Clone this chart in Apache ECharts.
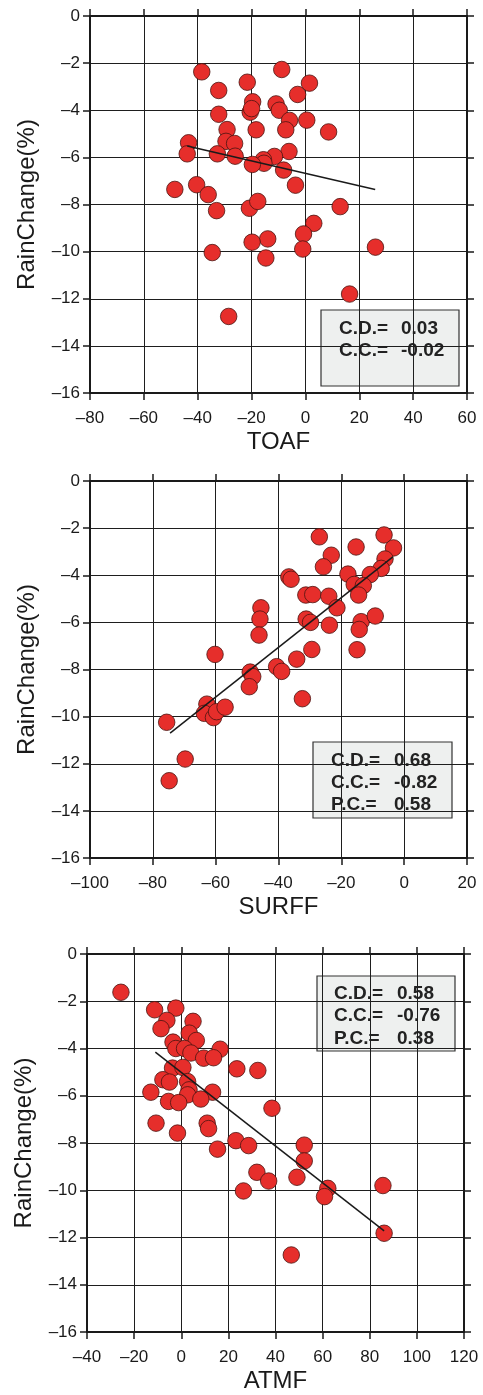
<!DOCTYPE html>
<html>
<head>
<meta charset="utf-8">
<script src="https://cdn.jsdelivr.net/npm/echarts@6/dist/echarts.min.js"></script>
<style>
  html, body { margin: 0; padding: 0; background: #fff; }
  #chart { width: 483px; height: 1395px; }
</style>
</head>
<body>
<div id="chart"></div>
<script>
// Rain change (%) against each forcing term, one panel per forcing.
const panelNames = ['TOAF', 'SURFF', 'ATMF'];
const yTitle = 'RainChange(%)';

// [forcing, rain change] pairs
const toafPoints = [
  [-38.5,-2.37],[-8.8,-2.27],[-21.6,-2.81],[1.5,-2.85],[-32.2,-3.16],[-2.9,-3.33],
  [-19.6,-3.64],[-10.9,-3.73],[-9.7,-4.0],[-20.5,-4.08],[-20.0,-3.93],[-32.2,-4.17],
  [-5.9,-4.43],[0.5,-4.42],[-29.1,-4.82],[-18.3,-4.83],[-7.3,-4.83],[8.6,-4.92],
  [-43.4,-5.38],[-29.5,-5.32],[-26.3,-5.41],[-43.9,-5.85],[-32.7,-5.85],[-26.1,-5.95],
  [-6.1,-5.75],[-11.5,-5.96],[-15.6,-6.1],[-15.4,-6.25],[-19.7,-6.3],[-8.1,-6.54],
  [-3.7,-7.18],[-48.5,-7.36],[-40.4,-7.16],[-36.1,-7.58],[-33.0,-8.26],[-20.8,-8.16],
  [-17.7,-7.87],[12.9,-8.09],[3.1,-8.8],[-0.7,-9.25],[-1.0,-9.89],[-14.0,-9.46],
  [-19.8,-9.6],[-34.6,-10.04],[-14.7,-10.27],[26.0,-9.81],[16.4,-11.8],[-28.5,-12.75]
];
const surffPoints = [
  [-27.0,-2.37],[-6.4,-2.29],[-15.3,-2.80],[-3.4,-2.84],[-23.2,-3.15],[-6.1,-3.31],
  [-25.7,-3.64],[-7.3,-3.71],[-36.7,-4.07],[-36.0,-4.17],[-17.9,-3.95],[-10.8,-3.97],
  [-15.9,-4.39],[-13.0,-4.44],[-31.3,-4.84],[-29.1,-4.82],[-24.0,-4.89],[-14.5,-4.84],
  [-21.4,-5.38],[-45.6,-5.38],[-45.9,-5.86],[-31.2,-5.86],[-29.8,-6.0],[-13.7,-5.97],
  [-14.3,-6.30],[-23.8,-6.12],[-9.2,-5.73],[-46.2,-6.54],[-15.0,-7.16],[-29.4,-7.15],
  [-60.2,-7.36],[-34.2,-7.56],[-40.6,-7.88],[-39.0,-8.08],[-49.0,-8.11],[-48.2,-8.3],
  [-49.3,-8.73],[-32.4,-9.24],[-75.6,-10.24],[-62.8,-9.47],[-63.6,-9.86],[-60.7,-10.04],
  [-59.7,-9.79],[-57.0,-9.6],[-69.7,-11.8],[-74.8,-12.72]
];
const atmfPoints = [
  [-25.6,-1.62],[-11.3,-2.36],[-2.3,-2.29],[-6.1,-2.81],[5.0,-2.85],[-8.6,-3.16],
  [3.4,-3.35],[6.4,-3.66],[-3.5,-3.73],[-2.3,-4.0],[1.4,-4.0],[4.1,-4.19],
  [16.5,-4.03],[9.5,-4.41],[13.7,-4.39],[23.6,-4.86],[32.5,-4.93],[-3.7,-4.83],
  [0.7,-4.80],[-7.8,-5.32],[-5.0,-5.42],[2.7,-5.40],[3.3,-5.75],[2.7,-5.96],
  [-12.9,-5.85],[13.3,-5.85],[8.3,-6.14],[-5.4,-6.24],[-1.1,-6.29],[38.5,-6.53],
  [-10.7,-7.16],[11.0,-7.16],[11.6,-7.39],[-1.6,-7.58],[23.2,-7.9],[28.6,-8.11],
  [15.4,-8.26],[52.2,-8.09],[52.2,-8.76],[32.1,-9.24],[37.1,-9.61],[49.1,-9.45],
  [26.4,-10.03],[62.2,-9.92],[60.8,-10.27],[85.6,-9.8],[86.1,-11.82],[46.7,-12.74]
];

// fitted line end points
const toafFit = [[-43.9,-5.52],[25.9,-7.36]];
const surffFit = [[-74.5,-10.7],[-3.6,-3.22]];
const atmfFit = [[-11.0,-4.15],[86.1,-11.72]];

// statistics shown in the inset boxes
const statLabels = ['C.D.=', 'C.C.=', 'P.C.='];
const toafStats = ['0.03', '-0.02'];
const surffStats = ['0.68', '-0.82', '0.58'];
const atmfStats = ['0.58', '-0.76', '0.38'];

// axis ranges
const xRanges = [[-80, 60], [-100, 20], [-40, 120]];
const yRange = [-16, 0];
const xStep = 20, yStep = 2;

const FONT = '"Liberation Sans", Arial, Helvetica, sans-serif';
const INK = '#1a1a1a';

const pointsList = [toafPoints, surffPoints, atmfPoints];
const fitList = [toafFit, surffFit, atmfFit];
const statsList = [toafStats, surffStats, atmfStats];

// layout of each panel (pixels)
const grids = [
  { left: 90, top: 16, width: 377, height: 377 },
  { left: 90, top: 481, width: 377, height: 377 },
  { left: 87, top: 954, width: 377, height: 378 }
];
// inset boxes: rect and text anchors
const boxes = [
  { x: 321, y: 310, w: 138, h: 76, tx: 339, vx: 401, ty: 328.5, dy: 21.8 },
  { x: 313, y: 742, w: 139, h: 76, tx: 331, vx: 394, ty: 761, dy: 21.7 },
  { x: 317, y: 976, w: 138, h: 75, tx: 334, vx: 397, ty: 994, dy: 22.2 }
];

const dash = v => String(v).replace('-', '\u2013');

const xAxes = [], yAxes = [], series = [], graphic = [];

grids.forEach((g, i) => {
  // bottom x axis with labels and vertical grid lines
  xAxes.push({
    gridIndex: i, type: 'value', position: 'bottom',
    min: xRanges[i][0], max: xRanges[i][1], interval: xStep,
    name: panelNames[i], nameLocation: 'middle', nameGap: 37,
    nameTextStyle: { fontFamily: FONT, fontSize: 24, color: INK },
    axisLine: { show: true, onZero: false, lineStyle: { color: INK, width: 2 } },
    axisTick: { show: true, length: 7, lineStyle: { color: INK, width: 1.5 } },
    axisLabel: { show: true, margin: 17, fontFamily: FONT, fontSize: 17, color: INK, formatter: dash },
    splitLine: { show: true, lineStyle: { color: '#1e1e1e', width: 1 } }
  });
  // top x axis: frame and outward ticks only
  xAxes.push({
    gridIndex: i, type: 'value', position: 'top',
    min: xRanges[i][0], max: xRanges[i][1], interval: xStep,
    axisLine: { show: true, onZero: false, lineStyle: { color: INK, width: 2 } },
    axisTick: { show: true, length: 7, lineStyle: { color: INK, width: 1.5 } },
    axisLabel: { show: false }, splitLine: { show: false }
  });
  yAxes.push({
    gridIndex: i, type: 'value', position: 'left',
    min: yRange[0], max: yRange[1], interval: yStep,
    name: yTitle, nameLocation: 'middle', nameGap: 51, nameRotate: 90,
    nameTextStyle: { fontFamily: FONT, fontSize: 24, color: INK },
    axisLine: { show: true, onZero: false, lineStyle: { color: INK, width: 2 } },
    axisTick: { show: true, length: 7, lineStyle: { color: INK, width: 1.5 } },
    axisLabel: { show: true, margin: 10, fontFamily: FONT, fontSize: 17, color: INK, formatter: dash },
    splitLine: { show: true, lineStyle: { color: '#1e1e1e', width: 1 } }
  });
  yAxes.push({
    gridIndex: i, type: 'value', position: 'right',
    min: yRange[0], max: yRange[1], interval: yStep,
    axisLine: { show: true, onZero: false, lineStyle: { color: INK, width: 2 } },
    axisTick: { show: true, length: 7, lineStyle: { color: INK, width: 1.5 } },
    axisLabel: { show: false }, splitLine: { show: false }
  });

  series.push({
    type: 'scatter', xAxisIndex: 2 * i, yAxisIndex: 2 * i,
    data: pointsList[i], symbol: 'circle', symbolSize: 16.5,
    itemStyle: { color: '#e62e2b', borderColor: '#4a1410', borderWidth: 0.8, opacity: 1 },
    z: 5, animation: false
  });
  series.push({
    type: 'line', xAxisIndex: 2 * i, yAxisIndex: 2 * i,
    data: fitList[i], symbol: 'none',
    lineStyle: { color: INK, width: 1.5 }, z: 6, animation: false
  });

  // inset statistics box, drawn beneath the grid lines
  const b = boxes[i];
  graphic.push({
    type: 'rect', z: -10,
    shape: { x: b.x, y: b.y, width: b.w, height: b.h },
    style: { fill: '#eef0ef', stroke: '#333', lineWidth: 1.2 }
  });
  statsList[i].forEach((v, k) => {
    graphic.push({
      type: 'text', z: -9, x: b.tx, y: b.ty + k * b.dy,
      style: { text: statLabels[k], font: 'bold 19px ' + FONT, fill: '#222',
               textAlign: 'left', textVerticalAlign: 'middle' }
    });
    graphic.push({
      type: 'text', z: -9, x: b.vx, y: b.ty + k * b.dy,
      style: { text: v, font: 'bold 19px ' + FONT, fill: '#222',
               textAlign: 'left', textVerticalAlign: 'middle' }
    });
  });
});

const chart = echarts.init(document.getElementById('chart'), null, { renderer: 'canvas' });
chart.setOption({
  animation: false,
  backgroundColor: '#ffffff',
  grid: grids.map(g => Object.assign({ containLabel: false }, g)),
  xAxis: xAxes,
  yAxis: yAxes,
  series: series,
  graphic: graphic
});
</script>
</body>
</html>
